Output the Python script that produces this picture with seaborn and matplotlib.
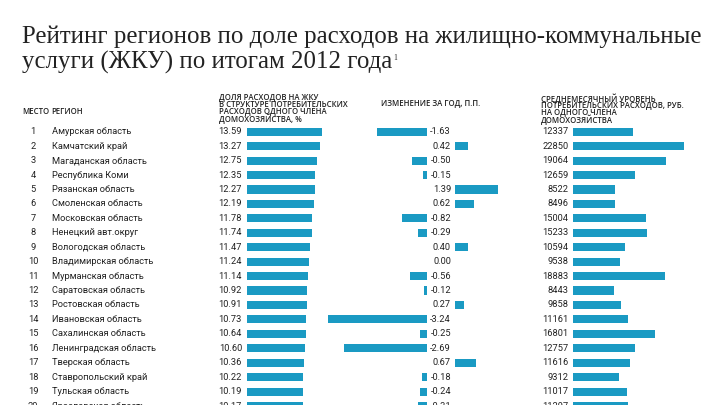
import seaborn as sns
import matplotlib.pyplot as plt
import matplotlib.transforms as mtransforms
import numpy as np
import pandas as pd

# data
ranks = list(range(1, 21))
regions = ["Амурская область", "Камчатский край", "Магаданская область", "Республика Коми",
           "Рязанская область", "Смоленская область", "Московская область", "Ненецкий авт.округ",
           "Вологодская область", "Владимирская область", "Мурманская область", "Саратовская область",
           "Ростовская область", "Ивановская область", "Сахалинская область", "Ленинградская область",
           "Тверская область", "Ставропольский край", "Тульская область", "Ярославская область"]
share = [13.59, 13.27, 12.75, 12.35, 12.27, 12.19, 11.78, 11.74, 11.47, 11.24,
         11.14, 10.92, 10.91, 10.73, 10.64, 10.60, 10.36, 10.22, 10.19, 10.17]
change = [-1.63, 0.42, -0.50, -0.15, 1.39, 0.62, -0.82, -0.29, 0.40, 0.00,
          -0.56, -0.12, 0.27, -3.24, -0.25, -2.69, 0.67, -0.18, -0.24, -0.31]
spending = [12337, 22850, 19064, 12659, 8522, 8496, 15004, 15233, 10594, 9538,
            18883, 8443, 9858, 11161, 16801, 12757, 11616, 9312, 11017, 11297]

df = pd.DataFrame({"rank": ranks, "region": regions, "share": share,
                   "change": change, "spending": spending})
df["neg"] = np.minimum(df["change"], 0)
df["pos"] = np.maximum(df["change"], 0)

BAR = "#1a9ac3"
INK = "#222222"
W, H = 720, 405

sns.set_theme(style="white")
plt.rcParams["font.family"] = ["Roboto", "DejaVu Sans"]

fig = plt.figure(figsize=(7.2, 4.05), dpi=100)


def px_axes(x0, x1, y0, y1):
    # axes placed by pixel box (y measured from top)
    return fig.add_axes([x0 / W, 1 - y1 / H, (x1 - x0) / W, (y1 - y0) / H])


row0, step = 131.7, 14.44
ytop, ybot = row0 - step / 2, row0 + step * 19.5

ax1 = px_axes(246.7, 330, ytop, ybot)
axn = px_axes(320, 427.3, ytop, ybot)
axp = px_axes(455.3, 530, ytop, ybot)
ax3 = px_axes(573.3, 720, ytop, ybot)

kw = dict(orient="h", color=BAR, width=0.56, linewidth=0, saturation=1)
sns.barplot(data=df, x="share", y="region", ax=ax1, **kw)
sns.barplot(data=df, x="neg", y="region", ax=axn, **kw)
sns.barplot(data=df, x="pos", y="region", ax=axp, **kw)
sns.barplot(data=df, x="spending", y="region", ax=ax3, **kw)

ax1.set_xlim(0, (330 - 246.7) / 5.54)
axn.set_xlim(-(427.3 - 320) / 30.8, 0)
axp.set_xlim(0, (530 - 455.3) / 30.8)
ax3.set_xlim(0, (720 - 573.3) / 0.004858)

# faint stub for a zero change
for p, v in zip(axn.patches, df["change"]):
    if v == 0:
        p.set_edgecolor("#d0d0d0")
        p.set_linewidth(0.6)

for ax in (ax1, axn, axp, ax3):
    ax.set_ylim(19.5, -0.5)
    ax.set_axis_off()

tf = dict(fontsize=6.7, color=INK, va="center")
for i, r in df.iterrows():
    ax1.annotate(f"{r['share']:.2f}", xy=(0, i), xytext=(-3.4, 0),
                 textcoords="offset points", ha="right", **tf)
    axp.annotate(f"{r['change']:.2f}", xy=(0, i), xytext=(-3.1, 0),
                 textcoords="offset points", ha="right", **tf)
    ax3.annotate(f"{r['spending']:d}", xy=(0, i), xytext=(-3.6, 0),
                 textcoords="offset points", ha="right", **tf)

trans = mtransforms.blended_transform_factory(fig.transFigure, ax1.transData)
for i, r in df.iterrows():
    fig.text(33 / W, i, str(r["rank"]), transform=trans, ha="center", **tf)
    fig.text(52 / W, i, r["region"], transform=trans, ha="left", **tf)

# title
serif = ["Liberation Serif", "DejaVu Serif"]
fig.text(22 / W, 1 - 42.5 / H, "Рейтинг регионов по доле расходов на жилищно-коммунальные",
         family=serif, fontsize=17.9, color=INK, va="baseline")
t2 = fig.text(22 / W, 1 - 69 / H, "услуги (ЖКУ) по итогам 2012 года",
              family=serif, fontsize=17.9, color=INK, va="baseline")
ax1.annotate("1", xy=(1, 0.9), xycoords=t2, xytext=(0.6, 0), textcoords="offset points",
             family=serif, fontsize=5.5, color=INK, ha="left", va="top", annotation_clip=False)

# column headers
hk = dict(family=["Open Sans", "DejaVu Sans"], fontsize=5.6, color=INK,
          fontweight="semibold", va="top", linespacing=0.7)
fig.text(22 / W, 1 - 107 / H, "МЕСТО", **hk)
fig.text(51 / W, 1 - 107 / H, "РЕГИОН", **hk)
fig.text(219 / W, 1 - 93 / H, "ДОЛЯ РАСХОДОВ НА ЖКУ\nВ СТРУКТУРЕ ПОТРЕБИТЕЛЬСКИХ\nРАСХОДОВ ОДНОГО ЧЛЕНА\nДОМОХОЗЯЙСТВА, %", **hk)
fig.text(381 / W, 1 - 99.5 / H, "ИЗМЕНЕНИЕ ЗА ГОД, П.П.", **hk)
fig.text(541 / W, 1 - 93 / H, "СРЕДНЕМЕСЯЧНЫЙ УРОВЕНЬ\nПОТРЕБИТЕЛЬСКИХ РАСХОДОВ, РУБ.\nНА ОДНОГО ЧЛЕНА\nДОМОХОЗЯЙСТВА", **hk)

fig.savefig("out.png", dpi=100)
plt.close(fig)
